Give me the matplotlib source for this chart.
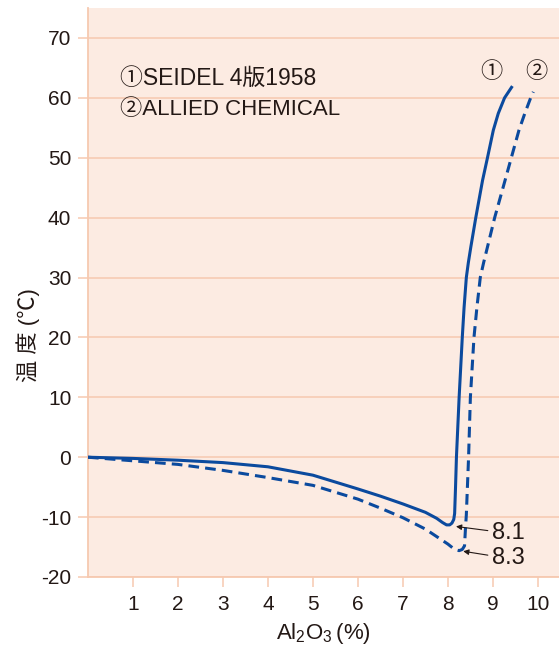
import matplotlib
matplotlib.use("Agg")
import matplotlib.pyplot as plt

# --- data ---
x_seidel = [0, 1, 2, 3, 4, 5, 6, 6.5, 7, 7.5, 7.75, 7.88, 7.97, 8.04, 8.09, 8.13, 8.15, 8.17,
            8.19, 8.25, 8.32, 8.36, 8.41, 8.455, 8.51, 8.62, 8.77, 8.88, 9.01, 9.12, 9.26, 9.415]
y_seidel = [0, -0.2, -0.5, -0.9, -1.6, -3.0, -5.3, -6.5, -7.8, -9.2, -10.2, -10.9, -11.3,
            -11.3, -11.0, -10.4, -9.4, -5, 0, 10, 20, 25, 30, 32.5, 35.1, 40, 46.2, 50, 54.6,
            57.4, 60, 61.75]
x_allied = [0, 1, 2, 3, 4, 5, 6, 6.5, 7, 7.5, 8.0, 8.15, 8.25, 8.32, 8.37, 8.39, 8.41,
            8.46, 8.5, 8.58, 8.645, 8.72, 8.795, 8.88, 9.04, 9.27, 9.41, 9.58, 9.71, 9.84, 9.90]
y_allied = [0, -0.6, -1.2, -2.2, -3.4, -4.7, -7.0, -8.5, -10.1, -12.0, -14.5, -15.4, -15.6,
            -15.4, -14.8, -12, -9.6, 0, 10, 20, 25, 30, 32.5, 35.1, 40, 46.2, 50, 54.6, 57.4,
            60, 61]
x_ticks = [1, 2, 3, 4, 5, 6, 7, 8, 9, 10]
y_ticks = [-20, -10, 0, 10, 20, 30, 40, 50, 60, 70]
min_labels = ["8.1", "8.3"]
min_points = [(8.18, -11.56), (8.34, -15.7)]

# --- style ---
FAM = ['Liberation Sans', 'Noto Sans CJK JP', 'DejaVu Sans']
plt.rcParams['font.family'] = FAM
plt.rcParams['mathtext.default'] = 'regular'
plt.rcParams['axes.unicode_minus'] = False
TXT = '#231815'
BG = '#fcebe2'
GRID = '#f6c9b0'
LINE = '#0b4a9e'

fig = plt.figure(figsize=(5.59, 6.46), dpi=100)
ax = fig.add_axes([88/559, (646-577)/646, 1 - 88/559, (577-8)/646])
ax.set_facecolor(BG)

ax.plot(x_seidel, y_seidel, color=LINE, lw=2.2, solid_joinstyle='round', zorder=3)
ax.plot(x_allied, y_allied, color=LINE, lw=2.2, dashes=(3.5, 2.0), zorder=3)

ax.set_xlim(0, 10.47)
ax.set_ylim(-20, 75)
ax.set_xticks(x_ticks)
ax.set_yticks(y_ticks)
ax.tick_params(axis='both', colors=GRID, labelcolor=TXT, labelsize=15, length=7, width=1.1)
ax.tick_params(axis='x', pad=6)
ax.tick_params(axis='y', pad=5)
ax.yaxis.grid(True, color=GRID, lw=1.1)
ax.set_axisbelow(True)
for s in ['top', 'right']:
    ax.spines[s].set_visible(False)
for s in ['left', 'bottom']:
    ax.spines[s].set_color(GRID)
    ax.spines[s].set_linewidth(1.3)

ax.set_xlabel(r'Al$_2$O$_3$$\,$(%)', fontsize=16, color=TXT, labelpad=5)
ax.set_ylabel('温 度 (℃)', fontsize=16, color=TXT)
ax.yaxis.set_label_coords(-0.102, 0.425)

ax.text(0.72, 63.3, '①SEIDEL 4版1958', fontsize=16.5, color=TXT, va='center', ha='left')
ax.text(0.72, 58.0, '②ALLIED CHEMICAL', fontsize=16, color=TXT, va='center', ha='left')
ax.text(8.96, 64.3, '①', fontsize=16, color=TXT, ha='center', va='center')
ax.text(9.96, 64.3, '②', fontsize=16, color=TXT, ha='center', va='center')

label_y = [-12.7, -16.9]
for lab, (px, py), ly in zip(min_labels, min_points, label_y):
    ax.annotate(lab, xy=(px, py), xytext=(8.98, ly), fontsize=17, color=TXT,
                ha='left', va='center',
                arrowprops=dict(arrowstyle='-|>', color=TXT, lw=0.8,
                                mutation_scale=8, shrinkA=1, shrinkB=0))

fig.savefig('out.png', dpi=100, facecolor='white')
